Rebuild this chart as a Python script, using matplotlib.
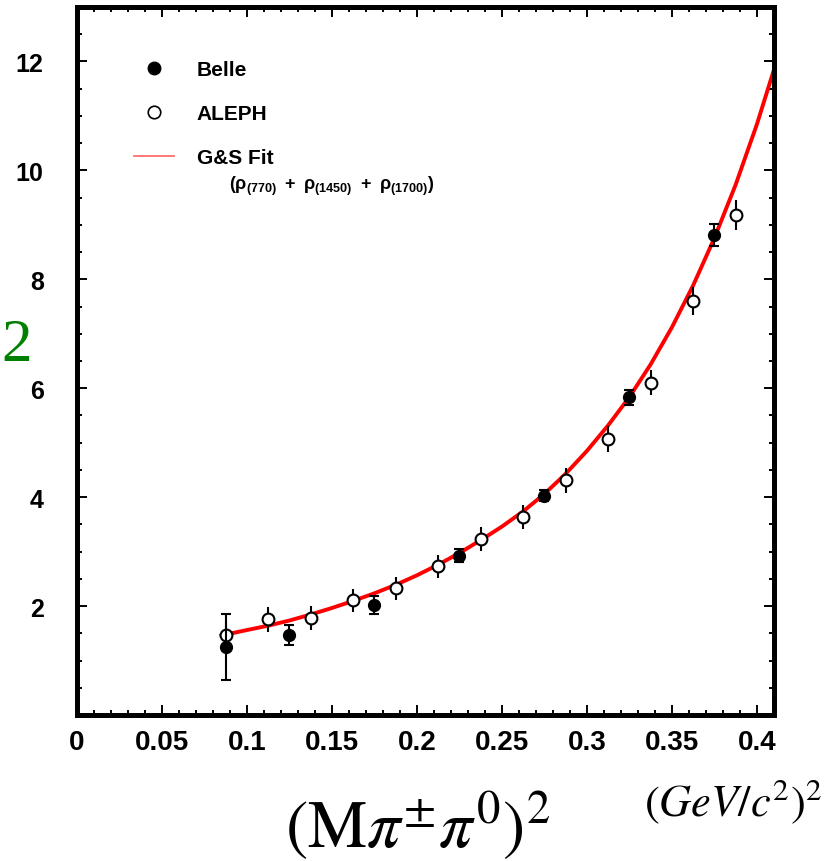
import matplotlib
matplotlib.use("Agg")
import matplotlib.pyplot as plt
from matplotlib.lines import Line2D
from matplotlib.ticker import MultipleLocator

plt.rcParams.update({
    "font.family": "Liberation Sans",
    "font.weight": "normal",
    "mathtext.fontset": "custom",
    "mathtext.rm": "Liberation Sans:bold",
    "mathtext.it": "Liberation Sans:bold",
    "mathtext.bf": "Liberation Sans:bold",
})

# Belle (filled points)
belle_x = [0.0875, 0.125, 0.175, 0.225, 0.275, 0.325, 0.375]
belle_y = [1.25, 1.47, 2.02, 2.92, 4.03, 5.83, 8.81]
belle_err = [0.60, 0.18, 0.17, 0.12, 0.10, 0.13, 0.20]

# ALEPH (open points)
aleph_x = [0.0875, 0.1125, 0.1375, 0.1625, 0.1875, 0.2125, 0.2375, 0.2625,
           0.2875, 0.3125, 0.3375, 0.3625, 0.3875]
aleph_y = [1.47, 1.76, 1.78, 2.11, 2.33, 2.73, 3.23, 3.63,
           4.31, 5.06, 6.10, 7.60, 9.18]
aleph_err = [0.22, 0.23, 0.22, 0.21, 0.21, 0.21, 0.22, 0.22,
             0.23, 0.24, 0.23, 0.26, 0.28]

# G&S fit curve
fit_x = [0.085, 0.10, 0.1125, 0.125, 0.1375, 0.15, 0.1625, 0.175, 0.1875,
         0.20, 0.2125, 0.225, 0.2375, 0.25, 0.2625, 0.275, 0.2875, 0.30,
         0.3125, 0.325, 0.3375, 0.35, 0.3625, 0.375, 0.3875, 0.40, 0.41]
fit_y = [1.46, 1.56, 1.64, 1.735, 1.845, 1.965, 2.095, 2.235, 2.39,
         2.565, 2.76, 2.975, 3.21, 3.46, 3.74, 4.06, 4.43, 4.85,
         5.32, 5.84, 6.44, 7.12, 7.89, 8.76, 9.74, 10.85, 11.85]

x_ticks = [0, 0.05, 0.1, 0.15, 0.2, 0.25, 0.3, 0.35, 0.4]
x_labels = ["0", "0.05", "0.1", "0.15", "0.2", "0.25", "0.3", "0.35", "0.4"]
y_ticks = [2, 4, 6, 8, 10, 12]

fig = plt.figure(figsize=(8.26, 8.62), dpi=100)
ax = fig.add_axes([0.0932, 0.1694, 0.8438, 0.8213])

ax.plot(fit_x, fit_y, color="#ff0000", lw=2.8, zorder=2)
ax.errorbar(aleph_x, aleph_y, yerr=aleph_err, fmt="o", ms=8.5, mfc="white",
            mec="black", mew=1.5, ecolor="black", elinewidth=1.5,
            capsize=0, zorder=3)
ax.errorbar(belle_x, belle_y, yerr=belle_err, fmt="o", ms=8.5, mfc="black",
            mec="black", ecolor="black", elinewidth=1.5, capsize=3.5,
            capthick=1.5, zorder=4)

ax.set_xlim(0, 0.41)
ax.set_ylim(0, 13)
ax.set_xticks(x_ticks)
ax.set_xticklabels(x_labels, fontsize=20, fontweight="bold")
ax.set_yticks(y_ticks)
ax.set_yticklabels([str(v) for v in y_ticks], fontsize=18, fontweight="bold")
ax.xaxis.set_minor_locator(MultipleLocator(0.01))
ax.yaxis.set_minor_locator(MultipleLocator(0.5))
ax.tick_params(which="both", direction="in", top=True, right=True, width=1.4)
ax.tick_params(which="major", length=7.2)
ax.tick_params(which="minor", length=3.6)
ax.tick_params(axis="y", which="major", pad=24)
ax.tick_params(axis="x", which="major", pad=10)
for sp in ax.spines.values():
    sp.set_linewidth(3.6)

handles = [
    Line2D([], [], ls="none", marker="o", ms=9, mfc="black", mec="black"),
    Line2D([], [], ls="none", marker="o", ms=9, mfc="white", mec="black", mew=1.2),
    Line2D([], [], color="#ff6060", lw=1.2),
]
ax.legend(handles, ["Belle", "ALEPH", "G&S Fit"], loc="upper left",
          bbox_to_anchor=(0.055, 0.951), frameon=False, handlelength=1.9,
          handletextpad=1.1, labelspacing=1.2,
          prop={"family": "Liberation Sans", "weight": "bold", "size": 15})
ax.text(0.218, 0.748,
        r"$(\rho_{(770)}\ +\ \rho_{(1450)}\ +\ \rho_{(1700)})$",
        transform=ax.transAxes, fontsize=13, ha="left", va="center")

fig.text(0.002, 0.598, "2", color="#008000", fontsize=44,
         family="Liberation Serif", ha="left", va="center")
fig.text(0.505, 0.042, r"$(\mathrm{M}\pi^{\pm}\pi^{0})^{2}$", fontsize=48,
         math_fontfamily="stix", ha="center", va="center")
fig.text(0.888, 0.07, r"$(GeV/c^{2})^{2}$", fontsize=32,
         math_fontfamily="stix", ha="center", va="center")

fig.savefig("out.png", dpi=100, facecolor="white")
